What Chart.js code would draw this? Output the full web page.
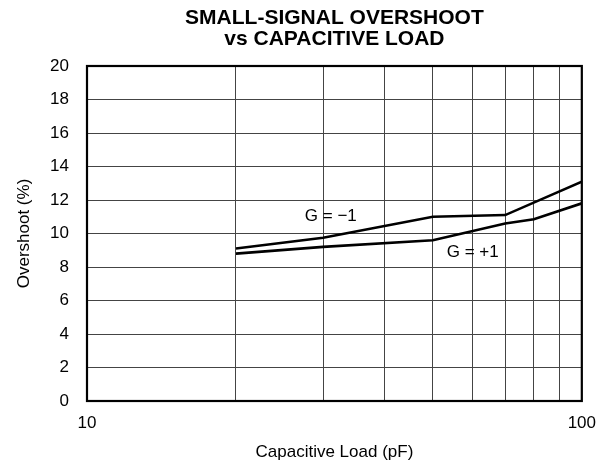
<!DOCTYPE html>
<html>
<head>
<meta charset="utf-8">
<script src="https://cdn.jsdelivr.net/npm/chart.js@4"></script>
<style>
html,body{margin:0;padding:0;background:#fff;}
#wrap{width:608px;height:468px;}
</style>
</head>
<body>
<div id="wrap"><canvas id="c" width="608" height="468"></canvas></div>
<script>
const titleLines = ["SMALL-SIGNAL OVERSHOOT", "vs CAPACITIVE LOAD"];
const xTitle = "Capacitive Load (pF)";
const yTitle = "Overshoot (%)";
const capLoad_Gm1 = [20, 30, 50, 70, 100];
const overshoot_Gm1 = [9.1, 9.75, 11.0, 11.1, 13.1];
const capLoad_Gp1 = [20, 30, 50, 70, 80, 100];
const overshoot_Gp1 = [8.8, 9.2, 9.6, 10.6, 10.85, 11.8];
const xTickValues = [10, 20, 30, 40, 50, 60, 70, 80, 90, 100];
const xLabeledTicks = [10, 100];
const yMin = 0, yMax = 20, yStep = 2;
const seriesLabels = [
  {text: "G = \u22121", x: 31.1, y: 11.05},
  {text: "G = +1", x: 60.2, y: 8.9}
];

const FONT = "'Liberation Sans', Arial, Helvetica, sans-serif";

const framePlugin = {
  id: 'frame',
  afterDatasetsDraw(chart) {
    const {ctx, chartArea: a} = chart;
    ctx.save();
    ctx.strokeStyle = '#000';
    ctx.lineWidth = 2.2;
    ctx.strokeRect(a.left, a.top, a.right - a.left, a.bottom - a.top);
    ctx.restore();
  },
  afterDraw(chart) {
    const {ctx} = chart;
    const xs = chart.scales.x, ys = chart.scales.y;
    ctx.save();
    ctx.fillStyle = '#000';
    ctx.font = "17px " + FONT;
    ctx.textAlign = 'center';
    ctx.textBaseline = 'middle';
    seriesLabels.forEach(l => {
      ctx.fillText(l.text, xs.getPixelForValue(l.x), ys.getPixelForValue(l.y));
    });
    ctx.restore();
  }
};

new Chart(document.getElementById('c'), {
  type: 'line',
  data: {
    datasets: [
      {label: 'G = -1', data: capLoad_Gm1.map((x, i) => ({x, y: overshoot_Gm1[i]})),
       borderColor: '#000', borderWidth: 2.6, pointRadius: 0, tension: 0, fill: false},
      {label: 'G = +1', data: capLoad_Gp1.map((x, i) => ({x, y: overshoot_Gp1[i]})),
       borderColor: '#000', borderWidth: 2.6, pointRadius: 0, tension: 0, fill: false}
    ]
  },
  options: {
    responsive: false,
    animation: false,
    layout: {padding: {left: 0, right: 26, top: 0, bottom: 0}},
    plugins: {
      legend: {display: false},
      tooltip: {enabled: false},
      title: {
        display: true, text: titleLines, color: '#000', fullSize: false,
        font: {family: FONT, size: 21, weight: 'bold', lineHeight: 1.0},
        padding: {top: 8, bottom: 16}
      }
    },
    scales: {
      x: {
        type: 'logarithmic', min: 10, max: 100,
        afterBuildTicks: s => { s.ticks = xTickValues.map(v => ({value: v})); },
        afterFit: s => { s.height = 67; },
        ticks: {
          color: '#000', font: {family: FONT, size: 17}, padding: 12, maxRotation: 0, autoSkip: false,
          callback: v => xLabeledTicks.includes(v) ? String(v) : ''
        },
        grid: {color: '#444', lineWidth: 1, drawTicks: false},
        border: {display: false},
        title: {display: true, text: xTitle, color: '#000', font: {family: FONT, size: 17}, padding: {top: 0, bottom: 5}}
      },
      y: {
        min: yMin, max: yMax,
        afterFit: s => { s.width = 87; },
        ticks: {stepSize: yStep, color: '#000', font: {family: FONT, size: 17}, padding: 18},
        grid: {color: '#444', lineWidth: 1, drawTicks: false},
        border: {display: false},
        title: {display: true, text: yTitle, color: '#000', font: {family: FONT, size: 17}, padding: {top: 14, bottom: 0}}
      }
    }
  },
  plugins: [framePlugin]
});
</script>
</body>
</html>
